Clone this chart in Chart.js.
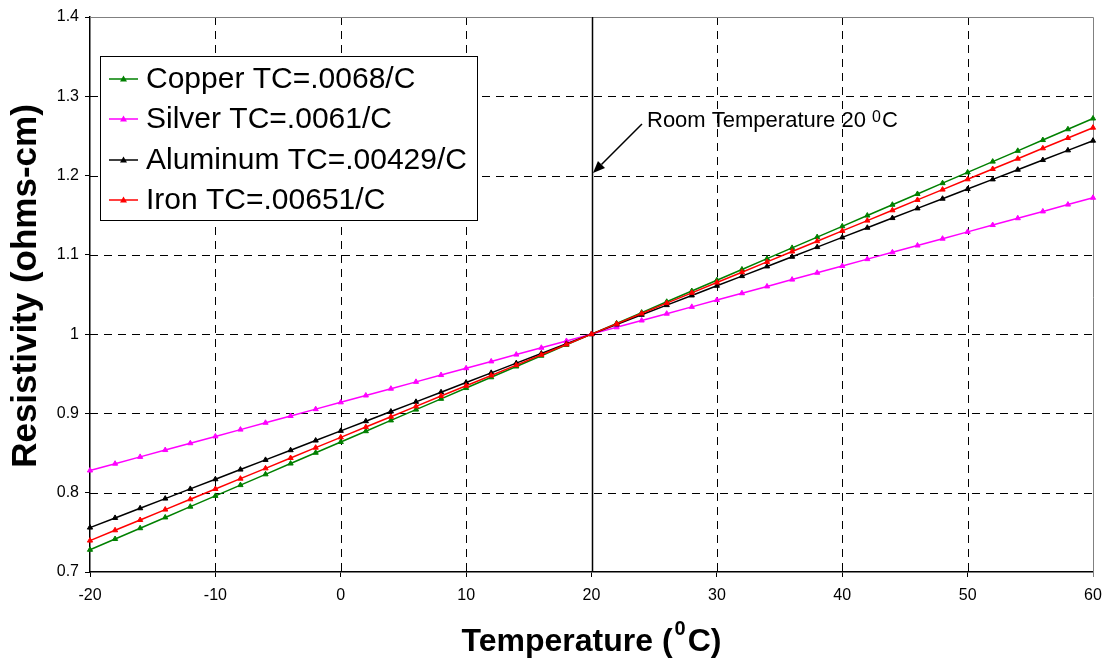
<!DOCTYPE html>
<html>
<head>
<meta charset="utf-8">
<script src="https://cdn.jsdelivr.net/npm/chart.js@4/dist/chart.umd.min.js"></script>
<style>
  html, body { margin: 0; padding: 0; background: #ffffff; }
  #wrap { width: 1104px; height: 658px; position: relative; }
</style>
</head>
<body>
<div id="wrap"><canvas id="chart" width="1104" height="658"></canvas></div>
<script>
// Temperature points (°C)
const temperatures = [-20, -18, -16, -14, -12, -10, -8, -6, -4, -2, 0, 2, 4, 6, 8, 10, 12, 14, 16, 18, 20,
  22, 24, 26, 28, 30, 32, 34, 36, 38, 40, 42, 44, 46, 48, 50, 52, 54, 56, 58, 60];

// Normalised resistivity for each metal (1.0 at 20 °C)
const copper = [0.728, 0.7416, 0.7552, 0.7688, 0.7824, 0.796, 0.8096, 0.8232, 0.8368, 0.8504, 0.864,
  0.8776, 0.8912, 0.9048, 0.9184, 0.932, 0.9456, 0.9592, 0.9728, 0.9864, 1,
  1.0136, 1.0272, 1.0408, 1.0544, 1.068, 1.0816, 1.0952, 1.1088, 1.1224, 1.136,
  1.1496, 1.1632, 1.1768, 1.1904, 1.204, 1.2176, 1.2312, 1.2448, 1.2584, 1.272];
const silver = [0.828, 0.8366, 0.8452, 0.8538, 0.8624, 0.871, 0.8796, 0.8882, 0.8968, 0.9054, 0.914,
  0.9226, 0.9312, 0.9398, 0.9484, 0.957, 0.9656, 0.9742, 0.9828, 0.9914, 1,
  1.0086, 1.0172, 1.0258, 1.0344, 1.043, 1.0516, 1.0602, 1.0688, 1.0774, 1.086,
  1.0946, 1.1032, 1.1118, 1.1204, 1.129, 1.1376, 1.1462, 1.1548, 1.1634, 1.172];
const aluminum = [0.756, 0.7682, 0.7804, 0.7926, 0.8048, 0.817, 0.8292, 0.8414, 0.8536, 0.8658, 0.878,
  0.8902, 0.9024, 0.9146, 0.9268, 0.939, 0.9512, 0.9634, 0.9756, 0.9878, 1,
  1.0122, 1.0244, 1.0366, 1.0488, 1.061, 1.0732, 1.0854, 1.0976, 1.1098, 1.122,
  1.1342, 1.1464, 1.1586, 1.1708, 1.183, 1.1952, 1.2074, 1.2196, 1.2318, 1.244];
const iron = [0.7396, 0.7526, 0.7656, 0.7787, 0.7917, 0.8047, 0.8177, 0.8307, 0.8438, 0.8568, 0.8698,
  0.8828, 0.8958, 0.9089, 0.9219, 0.9349, 0.9479, 0.9609, 0.974, 0.987, 1,
  1.013, 1.026, 1.0391, 1.0521, 1.0651, 1.0781, 1.0911, 1.1042, 1.1172, 1.1302,
  1.1432, 1.1562, 1.1693, 1.1823, 1.1953, 1.2083, 1.2213, 1.2344, 1.2474, 1.2604];

const seriesNames = ['Copper TC=.0068/C', 'Silver TC=.0061/C', 'Aluminum TC=.00429/C', 'Iron TC=.00651/C'];
const seriesColors = ['#008000', '#FF00FF', '#000000', '#FF0000'];

const xTicks = [-20, -10, 0, 10, 20, 30, 40, 50, 60];
const yTicks = [0.7, 0.8, 0.9, 1.0, 1.1, 1.2, 1.3, 1.4];
const yTickLabels = ['0.7', '0.8', '0.9', '1', '1.1', '1.2', '1.3', '1.4'];

const roomTemperature = 20;
const roomMarkerValue = 1.2;

const FONT = '"Liberation Sans", Arial, Helvetica, sans-serif';

function toPoints(values) {
  return values.map((v, i) => ({ x: temperatures[i], y: v }));
}

const seriesValues = [copper, silver, aluminum, iron];
const drawOrder = [3, 2, 1, 0]; // iron on top, copper underneath

const datasets = seriesValues.map((vals, i) => ({
  label: seriesNames[i],
  data: toPoints(vals),
  borderColor: seriesColors[i],
  backgroundColor: seriesColors[i],
  borderWidth: 1.5,
  pointStyle: 'triangle',
  pointRadius: 3,
  pointBorderWidth: 1,
  pointBackgroundColor: seriesColors[i],
  pointBorderColor: seriesColors[i],
  tension: 0,
  clip: false,
  order: drawOrder[i]
}));

// Grid, borders, legend box, annotation and axis titles
const decorations = {
  id: 'decorations',
  beforeDatasetsDraw(chart) {
    const { ctx, chartArea: a, scales: { x, y } } = chart;
    ctx.save();
    ctx.lineWidth = 1;
    ctx.strokeStyle = '#000000';
    ctx.setLineDash([8, 6]);
    xTicks.forEach(t => {
      if (t === xTicks[0] || t === xTicks[xTicks.length - 1] || t === roomTemperature) return;
      const px = Math.round(x.getPixelForValue(t)) + 0.5;
      ctx.beginPath(); ctx.moveTo(px, a.top); ctx.lineTo(px, a.bottom); ctx.stroke();
    });
    yTicks.forEach(t => {
      if (t === yTicks[0] || t === yTicks[yTicks.length - 1]) return;
      const py = Math.round(y.getPixelForValue(t)) + 0.5;
      ctx.beginPath(); ctx.moveTo(a.left, py); ctx.lineTo(a.right, py); ctx.stroke();
    });
    ctx.setLineDash([]);
    // top and right frame
    ctx.strokeStyle = '#808080';
    ctx.beginPath();
    ctx.moveTo(a.left, Math.round(a.top) + 0.5);
    ctx.lineTo(Math.round(a.right) + 0.5, Math.round(a.top) + 0.5);
    ctx.lineTo(Math.round(a.right) + 0.5, a.bottom + 5);
    ctx.stroke();
    // room-temperature marker line
    const rx = Math.round(x.getPixelForValue(roomTemperature)) + 0.5;
    ctx.strokeStyle = '#000000';
    ctx.lineWidth = 1.5;
    ctx.beginPath(); ctx.moveTo(rx, a.top); ctx.lineTo(rx, a.bottom); ctx.stroke();
    ctx.restore();
  },
  afterDraw(chart) {
    const { ctx, chartArea: a, scales: { x, y } } = chart;
    ctx.save();

    // legend
    const lx = 100.5, ly = 56.5, lw = 377, lh = 164;
    ctx.fillStyle = '#ffffff';
    ctx.fillRect(lx, ly, lw, lh);
    ctx.strokeStyle = '#000000';
    ctx.lineWidth = 1;
    ctx.strokeRect(lx, ly, lw, lh);
    const rows = [79, 119, 160, 200];
    ctx.font = '30px ' + FONT;
    ctx.textBaseline = 'middle';
    ctx.textAlign = 'left';
    seriesNames.forEach((name, i) => {
      const ry = rows[i];
      ctx.strokeStyle = seriesColors[i];
      ctx.lineWidth = 1.5;
      ctx.beginPath(); ctx.moveTo(109, ry); ctx.lineTo(138, ry); ctx.stroke();
      ctx.fillStyle = seriesColors[i];
      ctx.beginPath();
      ctx.moveTo(123.5, ry - 3.5); ctx.lineTo(127, ry + 2.5); ctx.lineTo(120, ry + 2.5);
      ctx.closePath(); ctx.fill();
      ctx.fillStyle = '#000000';
      ctx.fillText(name, 146, ry + 1);
    });

    // room temperature annotation
    const tipX = x.getPixelForValue(roomTemperature) + 1.5;
    const tipY = y.getPixelForValue(roomMarkerValue) - 2.5;
    const sx = tipX + 49, sy = tipY - 49;
    const ang = Math.atan2(tipY - sy, tipX - sx);
    const hl = 12, hw = 5;
    const bx = tipX - hl * Math.cos(ang), by = tipY - hl * Math.sin(ang);
    ctx.strokeStyle = '#000000';
    ctx.lineWidth = 1.5;
    ctx.beginPath(); ctx.moveTo(sx, sy); ctx.lineTo(bx, by); ctx.stroke();
    ctx.fillStyle = '#000000';
    ctx.beginPath();
    ctx.moveTo(tipX, tipY);
    ctx.lineTo(bx + hw * Math.sin(ang), by - hw * Math.cos(ang));
    ctx.lineTo(bx - hw * Math.sin(ang), by + hw * Math.cos(ang));
    ctx.closePath(); ctx.fill();

    ctx.textBaseline = 'alphabetic';
    ctx.textAlign = 'left';
    let tx = 647;
    const tBase = 127;
    ctx.font = '22px ' + FONT;
    const part1 = 'Room Temperature 20 ';
    ctx.fillText(part1, tx, tBase);
    tx += ctx.measureText(part1).width;
    ctx.font = '16px ' + FONT;
    ctx.fillText('0', tx, tBase - 5);
    tx += ctx.measureText('0').width + 1;
    ctx.font = '22px ' + FONT;
    ctx.fillText('C', tx, tBase);

    // x-axis title with superscript degree mark
    const cx = (a.left + a.right) / 2;
    const t1 = 'Temperature (', sup = '0', t2 = 'C)';
    ctx.font = 'bold 32px ' + FONT;
    const w1 = ctx.measureText(t1).width, w3 = ctx.measureText(t2).width;
    ctx.font = 'bold 20px ' + FONT;
    const w2 = ctx.measureText(sup).width;
    let px = cx - (w1 + w2 + w3 + 4) / 2;
    const xBase = 651;
    ctx.font = 'bold 32px ' + FONT;
    ctx.fillText(t1, px, xBase);
    px += w1 + 2;
    ctx.font = 'bold 20px ' + FONT;
    ctx.fillText(sup, px, xBase - 16);
    px += w2 + 2;
    ctx.font = 'bold 32px ' + FONT;
    ctx.fillText(t2, px, xBase);

    // y-axis title
    ctx.translate(36, 286);
    ctx.rotate(-Math.PI / 2);
    ctx.textAlign = 'center';
    ctx.font = 'bold 35px ' + FONT;
    ctx.fillText('Resistivity (ohms-cm)', 0, 0);

    ctx.restore();
  }
};

new Chart(document.getElementById('chart'), {
  type: 'line',
  data: { datasets },
  options: {
    responsive: false,
    animation: false,
    devicePixelRatio: 1,
    layout: { padding: { left: 0, right: 11, top: 17, bottom: 0 } },
    plugins: { legend: { display: false }, tooltip: { enabled: false }, title: { display: false } },
    scales: {
      x: {
        type: 'linear',
        min: xTicks[0],
        max: xTicks[xTicks.length - 1],
        afterBuildTicks: s => { s.ticks = xTicks.map(v => ({ value: v })); },
        afterFit: s => { s.height = 86; s.paddingLeft = 0; s.paddingRight = 0; },
        ticks: {
          color: '#000000',
          font: { family: FONT, size: 16 },
          padding: 9,
          maxRotation: 0,
          autoSkip: false,
          callback: v => String(v)
        },
        grid: { drawOnChartArea: false, drawTicks: true, tickLength: 5, tickColor: '#000000', tickWidth: 1 },
        border: { display: true, color: '#000000', width: 1.5 }
      },
      y: {
        type: 'linear',
        min: yTicks[0],
        max: yTicks[yTicks.length - 1],
        afterBuildTicks: s => { s.ticks = yTicks.map(v => ({ value: v })); },
        afterFit: s => { s.width = 90; s.paddingTop = 0; s.paddingBottom = 0; },
        ticks: {
          color: '#000000',
          font: { family: FONT, size: 16 },
          padding: 6,
          autoSkip: false,
          callback: (v, i) => yTickLabels[i]
        },
        grid: { drawOnChartArea: false, drawTicks: true, tickLength: 5, tickColor: '#000000', tickWidth: 1 },
        border: { display: true, color: '#000000', width: 1.5 }
      }
    }
  },
  plugins: [decorations]
});
</script>
</body>
</html>
